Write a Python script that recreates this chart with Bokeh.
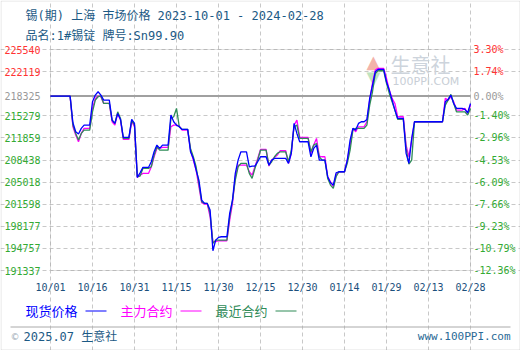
import pandas as pd
from bokeh.plotting import figure
from bokeh.models import (FixedTicker, Label, Range1d, Grid, ColumnDataSource,
                          BoxAnnotation)
from bokeh.core.properties import value
from bokeh.embed import file_html
from bokeh.resources import INLINE

# ---------------- data ----------------
dates = pd.date_range("2023-10-01", "2024-02-28", freq="D")

base_price = 218325

spot = [
    218325, 218325, 218325, 218325, 218325, 218325, 218325, 218325,
    214200, 212810, 212450, 213330, 213840, 213840, 213840,
    217450, 218480, 219000, 218480, 217710, 217710, 217710,
    214610, 214100, 215650, 214720, 211930, 211930, 211930,
    214720, 214100, 205740, 206460, 207290, 207290, 207290,
    208170, 209710, 210750, 210230, 210750, 210750, 210750,
    215390, 214360, 213840, 213580, 213170, 213170, 213170,
    209710, 208680, 206880, 205330, 202230, 201720, 201720,
    200690, 194390, 196040, 196460, 196560, 196560, 196560,
    200170, 202230, 206360, 208420, 209710, 209710, 209710,
    207390, 207500, 207500, 208170, 208940, 208940, 208940,
    207650, 208420, 208680, 208680, 208680, 208680, 208680,
    207910, 209460, 214100, 212550, 211260, 211260, 211260,
    211260, 208940, 210230, 210750, 208420, 208420, 208420,
    205850, 204920, 204560, 206460, 206620, 206620, 206620,
    208420, 211520, 213330, 213070, 214100, 214360, 214360,
    214720, 217970, 220030, 222090, 222460, 222460, 222460,
    220550, 219260, 217710, 216160, 214870, 214870, 214870,
    209460, 207910, 211780, 214360,
    214360, 214360, 214360, 214360, 214360, 214360, 214360, 214360, 214360, 214360,
    217450, 217810, 218480, 217190, 216420, 216420, 216420,
    216270, 215750, 217190,
]

main_contract = [
    218325, 218325, 218325, 218325, 218325, 218325, 218325, 218325,
    213580, 212290, 211260, 212550, 213330, 213330, 213330,
    216420, 217970, 218330, 218230, 217190, 217190, 217190,
    214360, 213840, 215650, 214610, 211620, 211620, 211620,
    214360, 213580, 205740, 206100, 206360, 206360, 206360,
    207390, 208940, 210230, 210230, 210380, 210380, 210380,
    213580, 213840, 213840, 213690, 213070, 213070, 213070,
    209970, 208420, 206880, 204300, 201820, 201610, 201610,
    199650, 195790, 195790, 195940, 195940, 195940, 195940,
    199140, 201720, 205850, 207650, 207650, 207650, 207650,
    206620, 206100, 207390, 208680, 210080, 210080, 210080,
    207500, 208420, 208840, 209200, 209870, 209870, 209870,
    207910, 209460, 213840, 214610, 211930, 211930, 211930,
    211930, 209460, 210750, 211780, 209040, 208940, 208940,
    205850, 205070, 204300, 206100, 206620, 206620, 206620,
    208420, 210750, 213330, 212810, 213580, 213580, 213580,
    214360, 217710, 220290, 222350, 222610, 222610, 222610,
    221060, 219260, 217970, 217190, 215130, 215130, 215130,
    210750, 208940, 211520, 214360,
    214360, 214360, 214360, 214360, 214360, 214360, 214360, 214360, 214360, 214360,
    217970, 217710, 218230, 217450, 216160, 216160, 216160,
    216420, 215650, 216940,
]

nearest_contract = [
    218325, 218325, 218325, 218325, 218325, 218325, 218325, 218325,
    213840, 212550, 211520, 212550, 213070, 213070, 213070,
    215900, 217710, 218230, 218330, 217190, 217190, 217190,
    214610, 214100, 215900, 214870, 211780, 211780, 211780,
    214610, 213840, 205850, 205950, 207130, 207130, 207130,
    207390, 209200, 210490, 209970, 209970, 209970, 209970,
    214870, 215130, 216420, 213580, 213170, 213170, 213170,
    210230, 208940, 207390, 204810, 201980, 201720, 201720,
    200170, 195530, 196040, 196040, 196040, 196040, 196040,
    199650, 202230, 205330, 207390, 207910, 207910, 207910,
    206360, 205590, 207130, 208420, 209970, 209970, 209970,
    207650, 208170, 208940, 209460, 209710, 209710, 209710,
    208170, 209970, 213580, 213840, 211780, 211780, 211780,
    211780, 209710, 210750, 211000, 208940, 208420, 208420,
    205590, 204560, 204040, 205850, 206620, 206620, 206620,
    207910, 209970, 213070, 213330, 213330, 213330, 213330,
    213840, 216940, 219000, 221840, 222250, 222250, 222250,
    220290, 218740, 217450, 216160, 214720, 214720, 214720,
    210230, 207800, 208420, 214360,
    214360, 214360, 214360, 214360, 214360, 214360, 214360, 214360, 214360, 214360,
    216940, 217710, 218590, 217190, 215900, 215900, 215900,
    215900, 215390, 216420,
]

y_ticks = [225540, 222119, 218325, 215279, 211859, 208438, 205018,
           201598, 198177, 194757, 191337]
pct_labels = ["3.30%", "1.74%", "0.00%", "-1.40%", "-2.96%", "-4.53%",
              "-6.09%", "-7.66%", "-9.23%", "-10.79%", "-12.36%"]
x_tick_dates = pd.date_range("2023-10-01", "2024-02-28", freq="15D")
x_tick_labels = ["10/01", "10/16", "10/31", "11/15", "11/30", "12/15",
                 "12/30", "01/14", "01/29", "02/13", "02/28"]

series_names = ["现货价格", "主力合约", "最近合约"]
title_text = "锡(期) 上海 市场价格 2023-10-01 - 2024-02-28"
subtitle_text = "品名:1#锡锭 牌号:Sn99.90"

# ---------------- style / layout ----------------
C_SPOT = "#0000ff"
C_MAIN = "#ff00ff"
C_NEAR = "#2e8b57"
C_RED = "#ff3333"
C_GRAY = "#999999"
C_GREEN = "#33aa33"
C_TITLE = "#1c5a85"
MONO = "DejaVu Sans Mono, Noto Sans CJK SC"
CJK = "Noto Sans CJK SC"

W, H = 520, 350
PL, PR, PT, PB = 50, 470, 49, 270   # plot area on the canvas (pixels)

# map the plot area to the data; the figure frame covers the whole canvas
t0, t1 = dates[0], dates[-1]
px_per_day = (PR - PL) / ((t1 - t0).days)
x_start = t0 - pd.Timedelta(days=PL / px_per_day)
x_end = t1 + pd.Timedelta(days=(W - PR) / px_per_day)
y_top, y_bot = y_ticks[0], y_ticks[-1]
units_per_px = (y_top - y_bot) / (PB - PT)
y_start = y_bot - (H - PB) * units_per_px
y_end = y_top + PT * units_per_px

def px_x(cx):
    return x_start + pd.Timedelta(days=cx / px_per_day)

def px_y(cy):
    return y_end - cy * units_per_px

p = figure(width=W, height=H, output_backend="svg", toolbar_location=None,
           title=None, x_axis_location=None, y_axis_location=None,
           x_range=Range1d(x_start, x_end), y_range=Range1d(y_start, y_end),
           min_border=0, min_border_left=0, min_border_right=0,
           min_border_top=0, min_border_bottom=0)
p.background_fill_color = "white"
p.border_fill_color = "white"
p.outline_line_color = None
p.grid.visible = False

def ms(t):
    return pd.Timestamp(t).value / 1e6

# grid lines limited to the plot area
xg = Grid(dimension=0, ticker=FixedTicker(ticks=[ms(d) for d in x_tick_dates]),
          bounds=(y_bot, y_top), grid_line_color="#c8c8c8", grid_line_dash="4 3")
yg = Grid(dimension=1, ticker=FixedTicker(ticks=[v for v in y_ticks if v != base_price]),
          bounds=(ms(t0), ms(t1)), grid_line_color="#c8c8c8", grid_line_dash="4 3")
p.add_layout(xg)
p.add_layout(yg)

# plot-area frame and base line
p.add_layout(BoxAnnotation(left=ms(t0), right=ms(t1), bottom=y_bot, top=y_top,
                           fill_alpha=0, line_color="#9a9a9a", line_width=1,
                           level="underlay"))
p.segment(x0=[t0], x1=[t1], y0=[base_price], y1=[base_price],
          line_color="#a0a0a0", line_width=2)

# helpers for texts placed in canvas pixels (screen units from the bottom-left)
def canvas_label(cx, cy, text, color, size, font, align="left", level="annotation"):
    p.add_layout(Label(x=cx, y=H - cy, x_units="screen", y_units="screen",
                       text=text, text_color=color, text_font_size=size,
                       text_font=font, text_align=align, text_baseline="middle",
                       level=level))

def canvas_hline(x0, x1, cy, color):
    p.segment(x0=[px_x(x0)], x1=[px_x(x1)], y0=[px_y(cy)], y1=[px_y(cy)],
              line_color=color, line_width=1)

# watermark
canvas_label(390, 64, "生意社", "#cdd4dc", "20px", CJK, level="underlay")
canvas_label(392, 81, "100PPI.COM", "#c8ced6", "11px", "DejaVu Sans", level="underlay")
canvas_label(373, 61, "▲", "#f3b3aa", "18px", "DejaVu Sans", align="center", level="underlay")
canvas_label(373, 77, "▼", "#bfe3bf", "18px", "DejaVu Sans", align="center", level="underlay")

# series
p.line(dates, main_contract, line_color=C_MAIN, line_width=1.3)
p.line(dates, nearest_contract, line_color=C_NEAR, line_width=1.3)
p.line(dates, spot, line_color=C_SPOT, line_width=1.3)

# tick labels, positioned through the scales
def color_of(v):
    if v > base_price:
        return C_RED
    if v == base_price:
        return C_GRAY
    return C_GREEN

ysrc = ColumnDataSource(dict(
    xl=[t0] * len(y_ticks), xr=[t1] * len(y_ticks), y=y_ticks,
    lab=[str(v) for v in y_ticks], pct=pct_labels,
    col=[color_of(v) for v in y_ticks]))
p.text(x="xl", y="y", text="lab", text_color="col", source=ysrc,
       text_align="right", text_baseline="middle", x_offset=-10,
       text_font=value(MONO), text_font_size="10px")
p.text(x="xr", y="y", text="pct", text_color="col", source=ysrc,
       text_align="left", text_baseline="middle", x_offset=3,
       text_font=value(MONO), text_font_size="10px")
p.text(x=list(x_tick_dates), y=[y_bot] * len(x_tick_dates), text=x_tick_labels,
       text_align="center", text_baseline="middle", y_offset=17,
       text_color="#1c4f7c", text_font=value(MONO), text_font_size="10px")

# titles
canvas_label(25, 15, title_text, C_TITLE, "12px", MONO)
canvas_label(25, 35, subtitle_text, C_TITLE, "12px", MONO)

# legend
legend_items = [(25, 85, C_SPOT), (120, 180, C_MAIN), (215, 275, C_NEAR)]
for name, (tx, lx, c) in zip(series_names, legend_items):
    canvas_label(tx, 310, name, c, "13px", CJK)
    canvas_hline(lx, lx + 21, 310.5, c)

# footer
canvas_hline(10, 510, 326.5, "#aaaaaa")
canvas_label(10, 336, "©", "#9aa7b4", "9px", "DejaVu Sans")
canvas_label(23, 336, "2025.07 生意社", C_TITLE, "12px", MONO)
canvas_label(510, 336, "www.100PPI.com", "#2a6a96", "11px", MONO, align="right")

# outer border
p.add_layout(BoxAnnotation(left=0.5, right=W - 0.5, bottom=0.5, top=H - 0.5,
                           left_units="screen", right_units="screen",
                           bottom_units="screen", top_units="screen",
                           fill_alpha=0, line_color="#a0a0a0", line_width=1))

open("out.html", "w").write(file_html(p, INLINE))
